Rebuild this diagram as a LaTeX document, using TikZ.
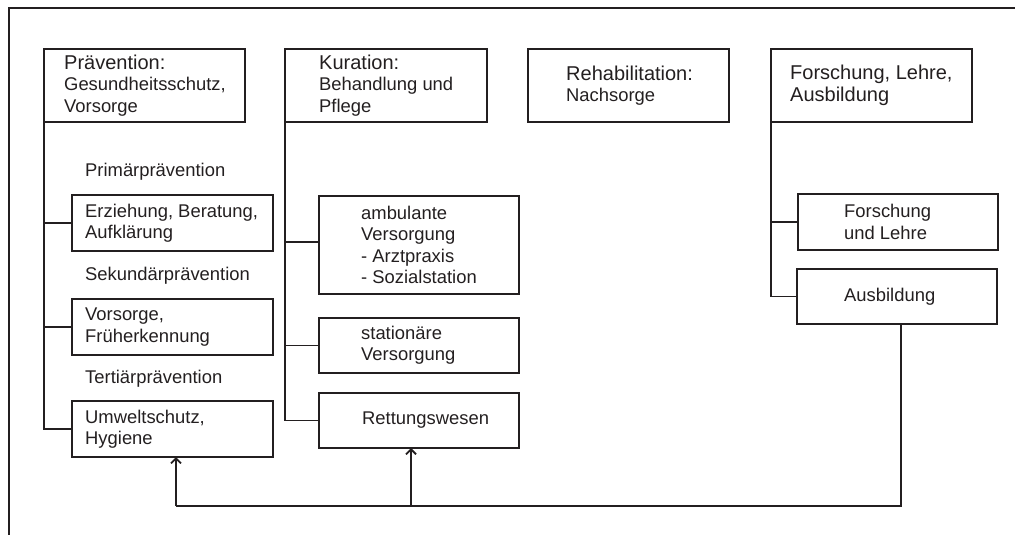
\documentclass[tikz,border=0pt]{standalone}
\usepackage{fontspec}
\setmainfont{Liberation Sans}
\usetikzlibrary{arrows.meta}
\definecolor{ink}{HTML}{231F20}
\newcommand\ttl[1]{{\fontsize{20}{22}\selectfont #1}}
\tikzset{
  box/.style={draw=ink, line width=1.8pt, anchor=north west, inner sep=0pt, outer sep=0pt},
  boxbig/.style={box, minimum width=201, minimum height=73},
  boxsub/.style={box, minimum width=201, minimum height=56},
  txt/.style={anchor=west, align=left, inner sep=0pt, text=ink, font=\fontsize{18.4}{21.3}\selectfont},
  link/.style={draw=ink, line width=1.8pt},
  uparrow/.style={link, -{Straight Barb[length=5pt, width=10pt]}},
}
\begin{document}
\begin{tikzpicture}[x=1pt, y=-1pt]
\useasboundingbox (0,0) rectangle (1015,535);
% outer frame (top and left edge only)
\draw[draw=ink, line width=1.4pt] (1015,8) -- (9,8) -- (9,535);

% --- Prävention ---
\node[boxbig] (prae) at (44,49) {};
\node[txt] (prae-t) at ([xshift=20]prae.west) {\ttl{Prävention:}\\Gesundheitsschutz,\\Vorsorge};
\node[txt] (prim) at (85,172) {Primärprävention};
\node[boxsub] (erz) at (72,195) {};
\node[txt] (erz-t) at ([xshift=13]erz.west) {Erziehung, Beratung,\\Aufklärung};
\node[txt] (sek) at (85,276) {Sekundärprävention};
\node[boxsub] (vor) at (72,299) {};
\node[txt] (vor-t) at ([xshift=13]vor.west) {Vorsorge,\\Früherkennung};
\node[txt] (ter) at (85,379) {Tertiärprävention};
\node[boxsub] (umw) at (72,401) {};
\node[txt] (umw-t) at ([xshift=13]umw.west) {Umweltschutz,\\Hygiene};
\draw[link] (prae.south west) |- (erz.west);
\draw[link] (prae.south west) |- (vor.west);
\draw[link] (prae.south west) |- (umw.west);

% --- Kuration ---
\node[boxbig, minimum width=202] (kur) at (285,49) {};
\node[txt] (kur-t) at ([xshift=34]kur.west) {\ttl{Kuration:}\\Behandlung und\\Pflege};
\node[box, minimum width=200, minimum height=98] (amb) at (319,196) {};
\node[txt] (amb-t) at ([xshift=42]amb.west) {ambulante\\Versorgung\\- Arztpraxis\\- Sozialstation};
\node[box, minimum width=200, minimum height=55] (sta) at (319,318) {};
\node[txt] (sta-t) at ([xshift=42]sta.west) {stationäre\\Versorgung};
\node[box, minimum width=200, minimum height=55] (ret) at (319,393) {};
\node[txt] (ret-t) at ([xshift=43]ret.west) {Rettungswesen};
\draw[link] (kur.south west) |- ([yshift=3]amb.west);
\draw[link] (kur.south west) |- (sta.west);
\draw[link] (kur.south west) |- (ret.west);

% --- Rehabilitation ---
\node[boxbig] (reh) at (528,49) {};
\node[txt] (reh-t) at ([xshift=38]reh.west) {\ttl{Rehabilitation:}\\Nachsorge};

% --- Forschung, Lehre, Ausbildung ---
\node[boxbig] (fla) at (771,49) {};
\node[txt, font=\fontsize{20}{22}\selectfont] (fla-t) at ([xshift=19]fla.west) {Forschung, Lehre,\\Ausbildung};
\node[boxsub, minimum width=200] (fol) at (798,194) {};
\node[txt] (fol-t) at ([xshift=46]fol.west) {Forschung\\und Lehre};
\node[boxsub, minimum width=200, minimum height=55] (aus) at (797,269) {};
\node[txt] (aus-t) at ([xshift=47]aus.west) {Ausbildung};
\draw[link] (fla.south west) |- (fol.west);
\draw[link] (fla.south west) |- (aus.west);

% --- feedback from Ausbildung to Hygiene and Rettungswesen ---
\coordinate (jr) at (901,506);
\coordinate (jm) at (411,506);
\coordinate (jl) at (176,506);
\draw[link] (jr |- aus.south) -- (jr) -- (jl);
\draw[uparrow] (jl) -- (jl |- umw.south);
\draw[uparrow] (jm) -- (jm |- ret.south);
\end{tikzpicture}
\end{document}
